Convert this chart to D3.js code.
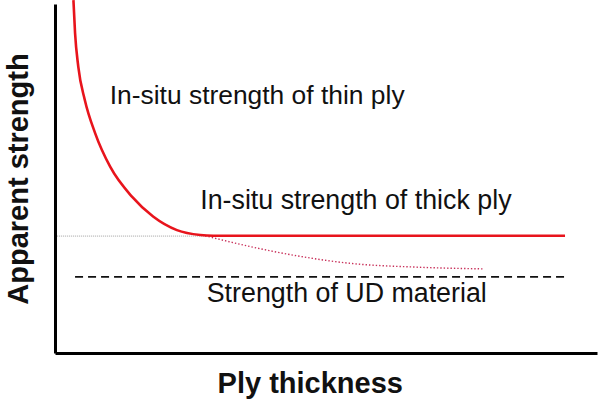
<!DOCTYPE html>
<html>
<head>
<meta charset="utf-8">
<script src="https://cdn.jsdelivr.net/npm/d3@7"></script>
<style>
  body { margin: 0; background: #fff; }
  text { font-family: "Liberation Sans", Arial, sans-serif; fill: #111; }
</style>
</head>
<body>
<svg id="chart" width="598" height="404"></svg>
<script>
// ply thickness (arbitrary units) and apparent strength (arbitrary units)
var thinX = [3.4, 3.7, 4.3, 5.5, 7.4, 10.2, 14.2, 18.1, 22.5, 26.8, 29.2, 94.1];
var thinY = [101.1, 91.7, 82.0, 72.5, 63.0, 53.3, 44.8, 39.1, 35.2, 33.8, 33.6, 33.6];
var extrapX = [27.7, 36.0, 45.2, 54.4, 66.7, 79.0];
var extrapY = [33.6, 30.5, 27.7, 25.7, 24.6, 24.1];
var thickLevel = 33.5;
var thickRefX = [0.4, 28.0];
var udLevel = 21.8;
var udX = [3.7, 94.1];
var labels = ['In-situ strength of thin ply', 'In-situ strength of thick ply', 'Strength of UD material'];
var xTitle = 'Ply thickness';
var yTitle = 'Apparent strength';

var svg = d3.select('#chart');
var x = d3.scaleLinear().domain([0, 100]).range([55, 597]);
var y = d3.scaleLinear().domain([0, 100]).range([353, 4]);

function zip(xs, ys) {
    return xs.map(function (v, i) { return [v, ys[i]]; });
}
var line = d3.line()
    .x(function (d) { return x(d[0]); })
    .y(function (d) { return y(d[1]); })
    .curve(d3.curveMonotoneX);

// thin grey dotted line marking the thick ply level
svg.append('line')
    .attr('x1', x(thickRefX[0]))
    .attr('x2', x(thickRefX[1]))
    .attr('y1', y(thickLevel))
    .attr('y2', y(thickLevel))
    .attr('stroke', '#a0a0a0')
    .attr('stroke-width', 1)
    .attr('stroke-dasharray', '1,1');

// UD material strength
svg.append('line')
    .attr('x1', x(udX[0]))
    .attr('x2', x(udX[1]))
    .attr('y1', y(udLevel))
    .attr('y2', y(udLevel))
    .attr('stroke', '#111')
    .attr('stroke-width', 1.6)
    .attr('stroke-dasharray', '8,5');

// dotted continuation of the thin ply curve
svg.append('path')
    .attr('d', line(zip(extrapX, extrapY)))
    .attr('fill', 'none')
    .attr('stroke', '#c8305a')
    .attr('stroke-width', 1.4)
    .attr('stroke-dasharray', '1.4,2');

// in-situ strength curve
svg.append('path')
    .attr('d', line(zip(thinX, thinY)))
    .attr('fill', 'none')
    .attr('stroke', '#e8141c')
    .attr('stroke-width', 2.6);

// axes, no ticks
svg.append('g')
    .attr('transform', 'translate(0,' + y(0) + ')')
    .call(d3.axisBottom(x).tickValues([]).tickSizeOuter(0))
    .select('.domain')
    .attr('stroke', '#000')
    .attr('stroke-width', 3);
svg.append('g')
    .attr('transform', 'translate(' + x(0) + ',0)')
    .call(d3.axisLeft(y).tickValues([]).tickSizeOuter(0))
    .select('.domain')
    .attr('stroke', '#000')
    .attr('stroke-width', 3);

// annotations
svg.append('text')
    .attr('x', x(10.1))
    .attr('y', y(71.3))
    .style('font-size', '26.4px')
    .text(labels[0]);
svg.append('text')
    .attr('x', x(26.8))
    .attr('y', y(41.3))
    .style('font-size', '26.8px')
    .text(labels[1]);
svg.append('text')
    .attr('x', x(28.0))
    .attr('y', y(14.6))
    .style('font-size', '26.8px')
    .text(labels[2]);

// axis titles
svg.append('text')
    .attr('x', x(47.1))
    .attr('y', 393)
    .attr('text-anchor', 'middle')
    .style('font-size', '29px')
    .style('font-weight', 'bold')
    .text(xTitle);
svg.append('text')
    .attr('transform', 'translate(28,' + 179 + ') rotate(-90)')
    .attr('text-anchor', 'middle')
    .style('font-size', '29px')
    .style('font-weight', 'bold')
    .text(yTitle);
</script>
</body>
</html>
